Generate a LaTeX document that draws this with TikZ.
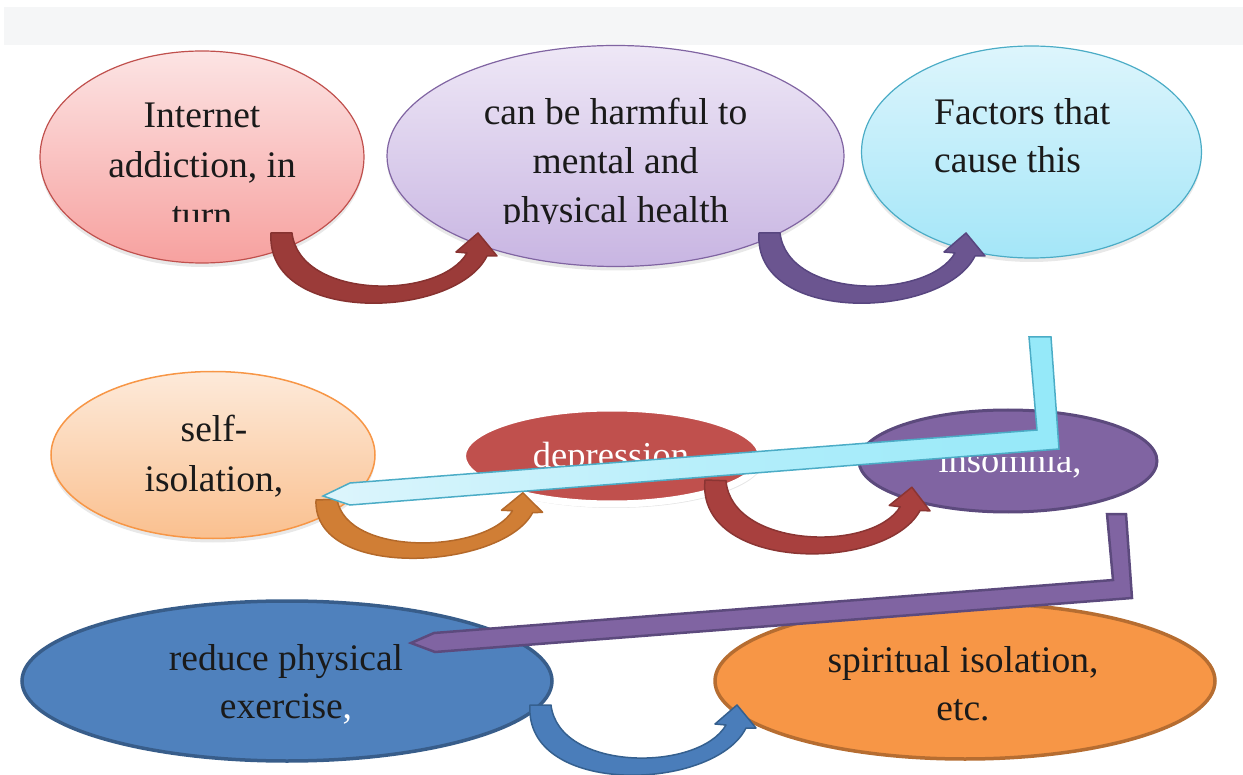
\documentclass[tikz,border=0pt]{standalone}
\usepackage{fontspec}
\setmainfont{Liberation Serif}
\usetikzlibrary{shapes.geometric,shadows}
\definecolor{bandgray}{HTML}{F5F6F7}
\definecolor{pinktop}{HTML}{FCE4E4}
\definecolor{pinkbot}{HTML}{F7A19F}
\definecolor{pinkline}{HTML}{C0504D}
\definecolor{lavtop}{HTML}{EEE7F6}
\definecolor{lavbot}{HTML}{C8B5E2}
\definecolor{lavline}{HTML}{8064A2}
\definecolor{cyantop}{HTML}{DDF5FC}
\definecolor{cyanbot}{HTML}{A4E6F8}
\definecolor{cyanline}{HTML}{4BACC6}
\definecolor{peachtop}{HTML}{FDEADA}
\definecolor{peachbot}{HTML}{FAC08F}
\definecolor{peachline}{HTML}{F79646}
\definecolor{depred}{HTML}{C0504D}
\definecolor{insfill}{HTML}{8064A2}
\definecolor{insline}{HTML}{5C4A7D}
\definecolor{bluefill}{HTML}{4F81BD}
\definecolor{blueline}{HTML}{385D8A}
\definecolor{orfill}{HTML}{F79646}
\definecolor{orline}{HTML}{B66D31}
\definecolor{arrred}{HTML}{9B3B39}
\definecolor{arrredline}{HTML}{873230}
\definecolor{arrpur}{HTML}{6B5590}
\definecolor{arrpurline}{HTML}{584680}
\definecolor{arror}{HTML}{D07E35}
\definecolor{arrorline}{HTML}{B4692A}
\definecolor{arrred2}{HTML}{A8403E}
\definecolor{arrred2line}{HTML}{8B3533}
\definecolor{arrblue}{HTML}{4A7DBA}
\definecolor{arrblueline}{HTML}{35608F}
\definecolor{txtblack}{HTML}{1A1A1A}
\newcommand{\curvarr}[4]{%
  \begin{scope}[shift={#1},#4]
    \filldraw[fill=#2,draw=#3,line width=1.5,line join=round]
      (0,0) -- (21,0) .. controls (29,67) and (169,67) .. (196,20)
      -- (185,19) -- (207,0) -- (226,23) -- (216,23)
      .. controls (184,87) and (-6,92) .. (0,0) -- cycle;
  \end{scope}}
\begin{document}
\begin{tikzpicture}[x=1pt,y=-1pt,
  oval/.style={ellipse,inner sep=0pt,outer sep=0pt},
  softshadow/.style={drop shadow={opacity=0.18,shadow xshift=0pt,shadow yshift=-4pt}},
  txt/.style={font=\fontsize{37.5}{50}\selectfont,inner sep=0pt,anchor=base,text=txtblack},
  wtxt/.style={font=\fontsize{36.5}{50}\selectfont,inner sep=0pt,anchor=base,text=white}]
\useasboundingbox (0,0) rectangle (1243,775);
\fill[bandgray] (4,7) rectangle (1243,45);

% ---------- row 1 ----------
\node[oval,softshadow,minimum width=324,minimum height=212,top color=pinktop,bottom color=pinkbot,draw=pinkline,line width=1.2] (pink) at (202,157) {};
\node[oval,softshadow,minimum width=457,minimum height=221,top color=lavtop,bottom color=lavbot,draw=lavline,line width=1.2] (lav) at (615.5,156) {};
\node[oval,softshadow,minimum width=340,minimum height=212,top color=cyantop,bottom color=cyanbot,draw=cyanline,line width=1.2] (cyan) at (1031.5,152) {};

\begin{scope}
  \clip (30,40) rectangle (375,222);
  \node[txt] (p1) at (202,128) {Internet};
  \node[txt] (p2) at (202,178) {addiction, in};
  \node[txt] (p3) at (202,228) {turn};
\end{scope}
\begin{scope}
  \clip (380,40) rectangle (850,224);
  \node[txt] (l1) at (615.5,125) {can be harmful to};
  \node[txt] (l2) at (615.5,174) {mental and};
  \node[txt] (l3) at (615.5,223) {physical health};
\end{scope}
\node[txt,anchor=base west] (c1) at (934,125) {Factors that};
\node[txt,anchor=base west] (c2) at (934,173) {cause this};

\coordinate (a1) at (271,233);
\coordinate (a2) at (759,233);
\curvarr{(a1)}{arrred}{arrredline}{}
\curvarr{(a2)}{arrpur}{arrpurline}{}

% ---------- row 2 ----------
\node[oval,softshadow,minimum width=324,minimum height=167,top color=peachtop,bottom color=peachbot,draw=peachline,line width=1.5] (peach) at (213,455) {};
\node[oval,drop shadow={opacity=0.2,shadow xshift=2pt,shadow yshift=-4pt},minimum width=299,minimum height=96,fill=depred,draw=white,line width=7] (dep) at (612,456) {};
\node[oval,minimum width=298,minimum height=102,fill=insfill,draw=insline,line width=3] (ins) at (1008,461) {};

\node[txt] (s1) at (214,442) {self-};
\node[txt] (s2) at (214,492) {isolation,};
\node[wtxt] (d1) at (611,468) {depression};
\begin{scope}
  \clip (860,458) rectangle (1160,520);
  \node[wtxt] (i1) at (1010,473) {insomnia,};
\end{scope}

\coordinate (a3) at (316,500);
\coordinate (a4) at (705,480);
\curvarr{(a3)}{arror}{arrorline}{rotate=2,yscale=0.88}
\curvarr{(a4)}{arrred2}{arrred2line}{rotate=-2}

% cyan bent arrow
\coordinate (cA) at (1029,337);
\coordinate (cB) at (1051,337);
\coordinate (cC) at (1059,449);
\coordinate (cD) at (350,505);
\coordinate (cT) at (323,496);
\coordinate (cF) at (350,483);
\coordinate (cE) at (1037,430);
\filldraw[left color=cyantop,right color=cyanbot!90!cyan,draw=cyanline,line width=1.5,line join=miter]
  (cA) -- (cB) -- (cC) -- (cD) -- (cT) -- (cF) -- (cE) -- cycle;

% ---------- row 3 ----------
\node[oval,minimum width=530,minimum height=160,fill=bluefill,draw=blueline,line width=3.5] (blue) at (287,681) {};
\node[oval,minimum width=500,minimum height=156,fill=orfill,draw=orline,line width=3.5] (orange) at (965,681) {};

\node[txt] (b1) at (286,670) {reduce physical};
\node[txt] (b2) at (286,718) {exercise{\color{white},}};
\node[txt] (o1) at (963,672) {spiritual isolation,};
\node[txt] (o2) at (963,720) {etc.};

\coordinate (a5) at (530,705);
\curvarr{(a5)}{arrblue}{arrblueline}{}

% purple bent arrow
\coordinate (pA) at (1107,514);
\coordinate (pB) at (1126,514);
\coordinate (pC) at (1132,598);
\coordinate (pD) at (435,652);
\coordinate (pT) at (411,643);
\coordinate (pF) at (434,633);
\coordinate (pE) at (1113,580);
\filldraw[fill=insfill,draw=insline,line width=2.5,line join=miter]
  (pA) -- (pB) -- (pC) -- (pD) -- (pT) -- (pF) -- (pE) -- cycle;
\end{tikzpicture}
\end{document}
